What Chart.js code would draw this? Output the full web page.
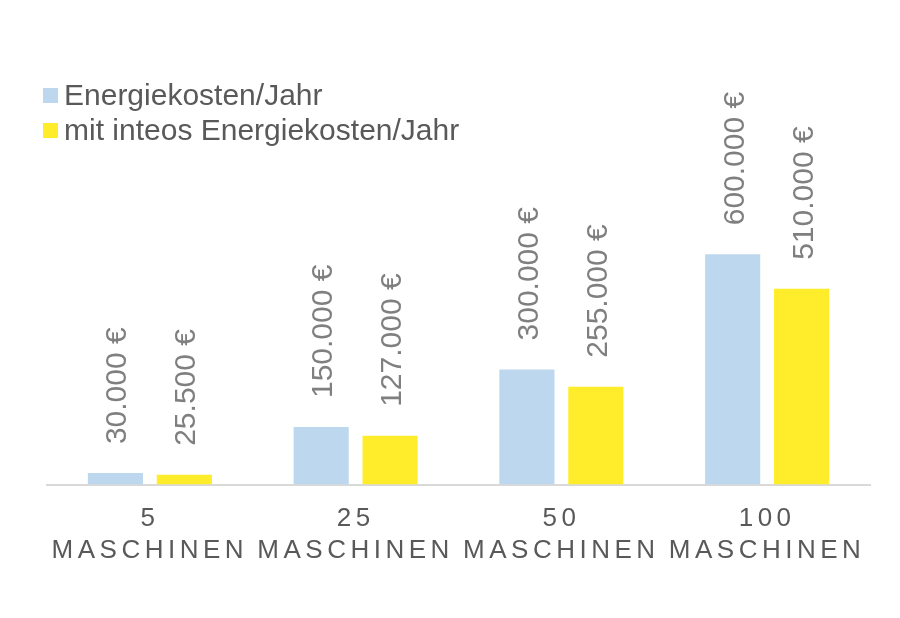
<!DOCTYPE html>
<html>
<head>
<meta charset="utf-8">
<script src="https://cdn.jsdelivr.net/npm/chart.js@4"></script>
<style>
  body { margin: 0; background: #fff; }
  #wrap { width: 900px; height: 618px; }
</style>
</head>
<body>
<div id="wrap"><canvas id="chart" width="900" height="618"></canvas></div>
<script>
const categories = [["5", "MASCHINEN"], ["25", "MASCHINEN"], ["50", "MASCHINEN"], ["100", "MASCHINEN"]];
const seriesNames = ["Energiekosten/Jahr", "mit inteos Energiekosten/Jahr"];
const energyCost = [30000, 150000, 300000, 600000];
const inteosCost = [25500, 127000, 255000, 510000];
const seriesColors = ["#BDD7EE", "#FFED2B"];

const FONT = "'Liberation Sans', Arial, sans-serif";

function euro(v) {
    return String(v).replace(/\B(?=(\d{3})+(?!\d))/g, ".") + " €";
}

// letter spaced x tick labels
const spacing = {
    id: "spacing",
    beforeDraw(chart) {
        chart.ctx.letterSpacing = "4.5px";
    },
    beforeDatasetsDraw(chart) {
        chart.ctx.letterSpacing = "0px";
    }
};

// rotated value labels above bars
const valueLabels = {
    id: "valueLabels",
    afterDatasetsDraw(chart) {
        const ctx = chart.ctx;
        ctx.save();
        ctx.letterSpacing = "0px";
        ctx.font = "30px " + FONT;
        ctx.fillStyle = "#7F7F7F";
        ctx.textAlign = "left";
        ctx.textBaseline = "alphabetic";
        chart.data.datasets.forEach((ds, di) => {
            chart.getDatasetMeta(di).data.forEach((bar, i) => {
                ctx.save();
                ctx.translate(bar.x + 11, bar.y - 29);
                ctx.rotate(-Math.PI / 2);
                ctx.fillText(euro(ds.data[i]), 0, 0);
                ctx.restore();
            });
        });
        ctx.restore();
    }
};

// legend, top left, one entry per line
const legendBox = {
    id: "legendBox",
    afterDraw(chart) {
        const ctx = chart.ctx;
        ctx.save();
        ctx.letterSpacing = "0px";
        ctx.font = "30px " + FONT;
        ctx.textBaseline = "alphabetic";
        ctx.textAlign = "left";
        chart.data.datasets.forEach((ds, i) => {
            let y = 105 + i * 35;
            ctx.fillStyle = ds.backgroundColor;
            ctx.fillRect(43, y - 17, 15, 15);
            ctx.fillStyle = "#595959";
            ctx.fillText(ds.label, 64, y);
        });
        ctx.restore();
    }
};

new Chart(document.getElementById("chart"), {
    type: "bar",
    data: {
        labels: categories,
        datasets: [{
            label: seriesNames[0],
            data: energyCost,
            backgroundColor: seriesColors[0]
        }, {
            label: seriesNames[1],
            data: inteosCost,
            backgroundColor: seriesColors[1]
        }]
    },
    options: {
        responsive: false,
        animation: false,
        categoryPercentage: 0.67,
        barPercentage: 0.8,
        layout: {
            padding: { left: 47, right: 30, top: 24, bottom: 41 }
        },
        plugins: {
            legend: { display: false },
            tooltip: { enabled: false }
        },
        scales: {
            x: {
                grid: { display: false },
                border: { display: true, color: "#D9D9D9", width: 2 },
                ticks: {
                    color: "#595959",
                    padding: 11,
                    maxRotation: 0,
                    font: { family: FONT, size: 26, lineHeight: 1.2 }
                }
            },
            y: {
                display: false,
                min: 0,
                max: 1200000
            }
        }
    },
    plugins: [spacing, valueLabels, legendBox]
});
</script>
</body>
</html>
